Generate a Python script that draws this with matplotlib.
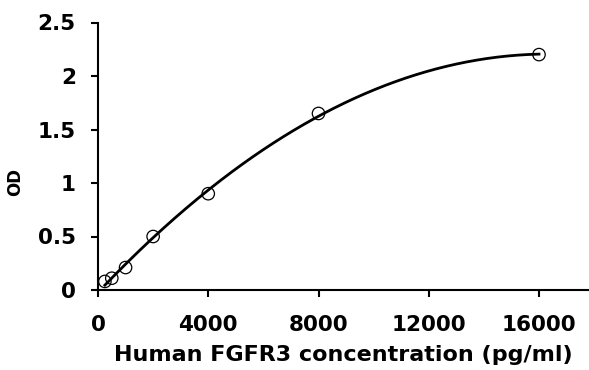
import numpy as np
import matplotlib
matplotlib.use("Agg")
import matplotlib.pyplot as plt

# standard curve points
conc = [250, 500, 1000, 2000, 4000, 8000, 16000]
od = [0.08, 0.11, 0.21, 0.50, 0.90, 1.65, 2.20]

x_ticks = [0, 4000, 8000, 12000, 16000]
y_ticks = [0, 0.5, 1, 1.5, 2, 2.5]
y_tick_labels = ["0", "0.5", "1", "1.5", "2", "2.5"]

# 2nd-order polynomial trendline
coef = np.polyfit(conc, od, 2)
xs = np.linspace(min(conc), max(conc), 300)
ys = np.polyval(coef, xs)

fig = plt.figure(figsize=(5.89, 3.70), dpi=100)
ax = fig.add_axes([98 / 589, 80 / 370, 491 / 589, 267.5 / 370])

ax.plot(xs, ys, color="black", lw=2, zorder=2)
ax.scatter(conc, od, s=80, facecolors="none", edgecolors="black",
           linewidths=0.9, zorder=3, clip_on=False)

ax.set_xlim(0, 17814)
ax.set_ylim(0, 2.5)
ax.set_xticks(x_ticks)
ax.set_xticklabels([str(t) for t in x_ticks])
ax.set_yticks(y_ticks)
ax.set_yticklabels(y_tick_labels)

for side in ("top", "right"):
    ax.spines[side].set_visible(False)
for side in ("left", "bottom"):
    ax.spines[side].set_linewidth(1.5)
ax.tick_params(direction="out", length=5, width=1.5)
ax.tick_params(axis="x", pad=13)
ax.tick_params(axis="y", pad=11)
for lab in ax.get_xticklabels() + ax.get_yticklabels():
    lab.set_fontfamily("DejaVu Sans")
    lab.set_fontweight("bold")
    lab.set_fontsize(15.5)

ax.set_xlabel("Human FGFR3 concentration (pg/ml)", fontfamily="DejaVu Sans",
              fontweight="bold", fontsize=16, labelpad=7)
fig.text(15 / 589, 1 - 182 / 370, "OD", rotation=90, ha="center", va="center",
         fontfamily="DejaVu Sans", fontweight="bold", fontsize=12)

fig.savefig("out.png", dpi=100)
